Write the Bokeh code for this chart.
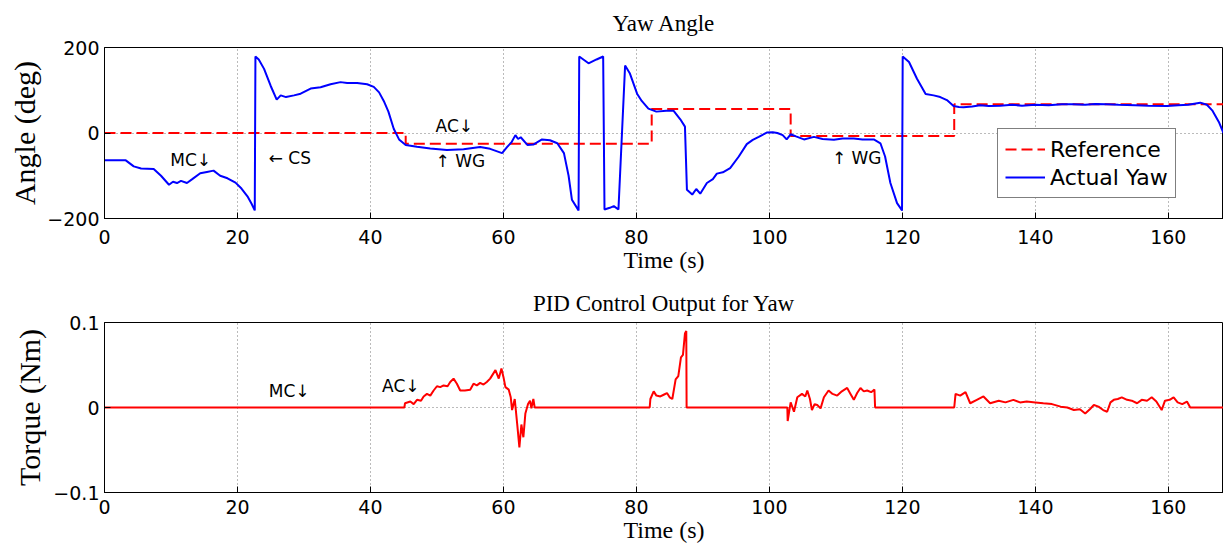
from bokeh.plotting import figure
from bokeh.models import Range1d, FixedTicker, Label
from bokeh.layouts import column
from bokeh.embed import file_html
from bokeh.resources import INLINE

# ---------------- data ----------------
x_ticks = [0, 20, 40, 60, 80, 100, 120, 140, 160]
yaw_ticks = [-200, 0, 200]
torque_ticks = [-0.1, 0, 0.1]

ref_t = [0, 45.3, 82.3, 103.2, 127.8, 170]
ref_v = [0, -25, 56, -7, 67, 67]

yaw_t = [0, 3.2, 4.4, 5.5, 7.4, 8.5, 9.7, 10.3, 10.9, 11.5, 12.4, 13.2, 14.4, 15.4, 16.4,
         17.4, 18.5, 19.7, 20.6, 21.5, 22.1, 22.6, 22.7, 23.2, 24.0, 25.0, 25.9, 26.5, 27.3,
         28.5, 29.5, 31.0, 32.5, 34.0, 35.5, 36.5, 38.0, 39.5, 40.5, 41.3, 42.0, 42.7, 43.5,
         44.3, 45.3, 47.0, 49.0, 51.5, 54.0, 56.5, 58.0, 59.8, 60.6, 61.2, 61.8, 62.2, 62.6,
         63.6, 64.5, 65.8, 67.0, 68.1, 69.1, 69.8, 70.3, 71.3, 71.4, 72.8, 74.0, 75.0, 75.2,
         76.0, 76.6, 77.3, 78.3, 79.0, 80.1, 80.8, 81.8, 83.0, 84.5, 85.6, 86.6, 87.3, 87.6,
         88.4, 89.0, 89.6, 90.6, 91.5, 92.1, 93.0, 94.1, 95.4, 96.6, 97.5, 98.4, 99.6, 100.5,
         101.2, 102.0, 102.6, 103.2, 104.0, 105.2, 106.7, 108.0, 109.7, 111.0, 112.7, 114.0,
         115.7, 116.7, 117.4, 118.2, 119.2, 119.95, 120.05, 121.0, 122.2, 123.5, 124.7, 125.7,
         126.7, 127.7, 128.5, 129.2, 130.5, 131.7, 133.0, 134.7, 136.5, 138.0, 140.0, 142.0,
         144.0, 145.7, 147.5, 149.0, 150.7, 152.5, 155.0, 157.0, 159.8, 161.5, 163.0,
         164.8, 165.8, 166.6, 167.6, 168.3]
yaw_v = [-64, -64, -78, -83, -84, -100, -121, -114, -117, -112, -117, -108, -94, -91, -88,
         -100, -106, -116, -130, -148, -165, -181, 179, 172, 150, 110, 78, 88, 84,
         88, 92, 104, 107, 114, 119, 117, 117, 114, 108, 95, 75, 50, 10,
         -15, -28, -32, -36, -40, -38, -33, -37, -47, -32, -22, -5, -14, -10,
         -28, -27, -15, -17, -24, -47, -100, -156, -181, 179, 163, 172, 179, -179,
         -175, -171, -179, 158, 140, 92, 75, 57, 50, 52, 52, 32, 15, -133,
         -144, -131, -142, -117, -108, -95, -92, -82, -55, -26, -16, -9, 1, 2,
         0, -5, -15, -3, -8, -15, -9, -14, -16, -13, -13, -15,
         -15, -24, -55, -117, -164, -181, 179, 166, 127, 91, 88, 84,
         77, 63, 61, 60, 62, 65, 63, 64, 66, 64, 66, 65,
         67, 67, 66, 68, 67, 66, 65, 64, 63, 65, 66,
         71, 66, 53, 26, 0]

torque_t = [0, 45.1, 45.2, 46.0, 46.5, 47.0, 47.6, 48.0, 48.5, 49.0, 49.5, 50.0, 50.5, 51.0,
            51.6, 52.0, 52.5, 53.0, 53.5, 54.2, 55.0, 55.5, 56.0, 56.5, 57.0, 57.5, 58.0,
            58.8, 59.3, 59.7, 60.0, 60.3, 60.8, 61.1, 61.3, 61.7, 62.1, 62.4, 62.7, 63.0,
            63.3, 63.7, 64.0, 64.2, 64.5, 64.7, 82.0, 82.1, 82.6, 83.0, 83.6, 84.1, 84.6,
            85.0, 85.4, 85.9, 86.3, 86.7, 87.0, 87.3, 87.5, 87.55, 102.7, 102.75, 103.2,
            103.7, 104.2, 104.9, 105.4, 105.7, 106.1, 106.4, 106.8, 107.2, 107.7, 108.2,
            108.9, 109.5, 110.2, 110.9, 111.7, 112.2, 112.7, 113.2, 113.7, 114.2, 114.7,
            115.3, 115.8, 115.9, 127.8, 128.0, 128.7, 129.5, 130.2, 131.2, 132.2, 133.2,
            134.5, 135.5, 136.7, 137.7, 138.7, 140.0, 141.2, 142.5, 143.8, 144.8, 145.8,
            146.7, 147.5, 148.2, 148.8, 149.5, 150.2, 150.8, 151.3, 151.8, 152.4, 153.0,
            153.8, 154.5, 155.3, 156.0, 156.8, 157.5, 158.2, 159.0, 159.5, 160.2, 160.8,
            161.4, 162.1, 162.8, 163.3, 170.0]
torque_v = [0, 0, 0.005, 0.007, 0.004, 0.009, 0.008, 0.013, 0.016, 0.014, 0.020, 0.025, 0.024, 0.026,
            0.025, 0.030, 0.034, 0.028, 0.020, 0.020, 0.021, 0.028, 0.026, 0.029, 0.027, 0.030, 0.034,
            0.044, 0.034, 0.046, 0.036, 0.024, 0.021, 0.012, -0.003, 0.010, -0.022, -0.047, -0.020, -0.035,
            -0.007, 0.004, 0.008, -0.001, 0.010, 0.0, 0.0, 0.010, 0.019, 0.014, 0.013, 0.015, 0.017,
            0.012, 0.010, 0.033, 0.037, 0.059, 0.062, 0.087, 0.090, 0.0, 0.0, -0.016, 0.006,
            -0.005, 0.012, 0.016, 0.013, 0.020, 0.010, -0.003, 0.004, 0.003, -0.001, 0.012,
            0.020, 0.016, 0.014, 0.019, 0.023, 0.016, 0.009, 0.017, 0.023, 0.019, 0.020,
            0.018, 0.021, 0.0, 0.0, 0.016, 0.014, 0.018, 0.005, 0.009, 0.013, 0.005,
            0.008, 0.006, 0.009, 0.006, 0.007, 0.006, 0.005, 0.004, 0.001, 0.0, -0.003,
            -0.002, -0.007, -0.002, 0.003, 0.001, -0.003, -0.005, 0.006, 0.009, 0.010, 0.012,
            0.009, 0.008, 0.005, 0.009, 0.008, 0.012, 0.007, -0.003, 0.008, 0.009, 0.012,
            0.006, 0.004, 0.007, 0.0, 0.0]

yaw_notes = [("MC\u2193", 9.9, -63), ("\u2190 CS", 24.7, -58), ("AC\u2193", 49.8, 17),
             ("\u2191 WG", 49.8, -66), ("\u2191 WG", 109.4, -59)]
torque_notes = [("MC\u2193", 24.7, 0.0197), ("AC\u2193", 41.75, 0.025)]

# ---------------- style ----------------
SERIF = "Liberation Serif"
SANS = "DejaVu Sans"
W = 1223
X_END = 168.3


def make_fig(height, top, bottom, title, title_standoff, ylabel, ylabel_standoff,
             xlabel_standoff, yr, yticks, overrides):
    p = figure(width=W, height=height, output_backend="svg", toolbar_location=None,
               x_range=Range1d(0, X_END), y_range=Range1d(*yr),
               min_border_left=104, min_border_right=0, min_border_top=top,
               min_border_bottom=bottom, title=title)
    p.title.text_font = SERIF
    p.title.text_font_size = "23px"
    p.title.text_font_style = "normal"
    p.title.align = "center"
    p.title.vertical_align = "top"
    p.title.text_color = "black"
    p.title.standoff = title_standoff
    p.outline_line_color = "black"
    p.outline_line_width = 1
    p.background_fill_color = "white"
    p.border_fill_color = "white"

    p.xaxis.ticker = FixedTicker(ticks=x_ticks)
    p.yaxis.ticker = FixedTicker(ticks=yticks)
    p.yaxis.major_label_overrides = overrides
    for ax in (p.xaxis[0], p.yaxis[0]):
        ax.major_tick_in = 6
        ax.major_tick_out = 0
        ax.minor_tick_in = 0
        ax.minor_tick_out = 0
        ax.axis_line_color = "black"
        ax.major_tick_line_color = "black"
        ax.major_label_text_font = SANS
        ax.major_label_text_font_size = "19px"
        ax.major_label_text_color = "black"
        ax.axis_label_text_font = SERIF
        ax.axis_label_text_font_style = "normal"
        ax.axis_label_text_color = "black"
    p.xaxis.axis_label = "Time (s)"
    p.xaxis.axis_label_text_font_size = "24px"
    p.xaxis.major_label_standoff = xlabel_standoff
    p.xaxis.axis_label_standoff = 0
    p.yaxis.axis_label = ylabel
    p.yaxis.axis_label_text_font_size = "30px"
    p.yaxis.major_label_standoff = 5
    p.yaxis.axis_label_standoff = ylabel_standoff

    for g in (p.xgrid[0], p.ygrid[0]):
        g.grid_line_color = "#777777"
        g.grid_line_dash = "1 3"
        g.grid_line_width = 1
    return p


p1 = make_fig(276, 47, 58, "Yaw Angle", 19, "Angle (deg)", 3, 11, (-200, 200), yaw_ticks,
              {-200: "\u2212200"})
p1.step(ref_t, ref_v, mode="after", line_color="red", line_width=2, line_dash="11 5",
        legend_label="Reference")
p1.line(yaw_t, yaw_v, line_color="blue", line_width=2, legend_label="Actual Yaw")
for txt, x, y in yaw_notes:
    p1.add_layout(Label(x=x, y=y, text=txt, text_font=SANS, text_font_size="17px",
                        text_baseline="middle", text_color="black"))

lg = p1.legend[0]
lg.location = (893, 20)
lg.label_text_font = SANS
lg.label_text_font_size = "22px"
lg.label_text_color = "black"
lg.border_line_color = "black"
lg.border_line_width = 1
lg.background_fill_alpha = 1
lg.glyph_width = 40
lg.glyph_height = 26
lg.label_height = 26
lg.spacing = 2
lg.padding = 7
lg.margin = 0
lg.label_standoff = 5

p2 = make_fig(271, 46, 55, "PID Control Output for Yaw", 10, "Torque (Nm)", 4, 7, (-0.1, 0.1),
              torque_ticks, {-0.1: "\u22120.1"})
p2.line(torque_t, torque_v, line_color="red", line_width=2)
for txt, x, y in torque_notes:
    p2.add_layout(Label(x=x, y=y, text=txt, text_font=SANS, text_font_size="17px",
                        text_baseline="middle", text_color="black"))

layout = column(p1, p2, spacing=0)
open("out.html", "w").write(file_html(layout, INLINE))
